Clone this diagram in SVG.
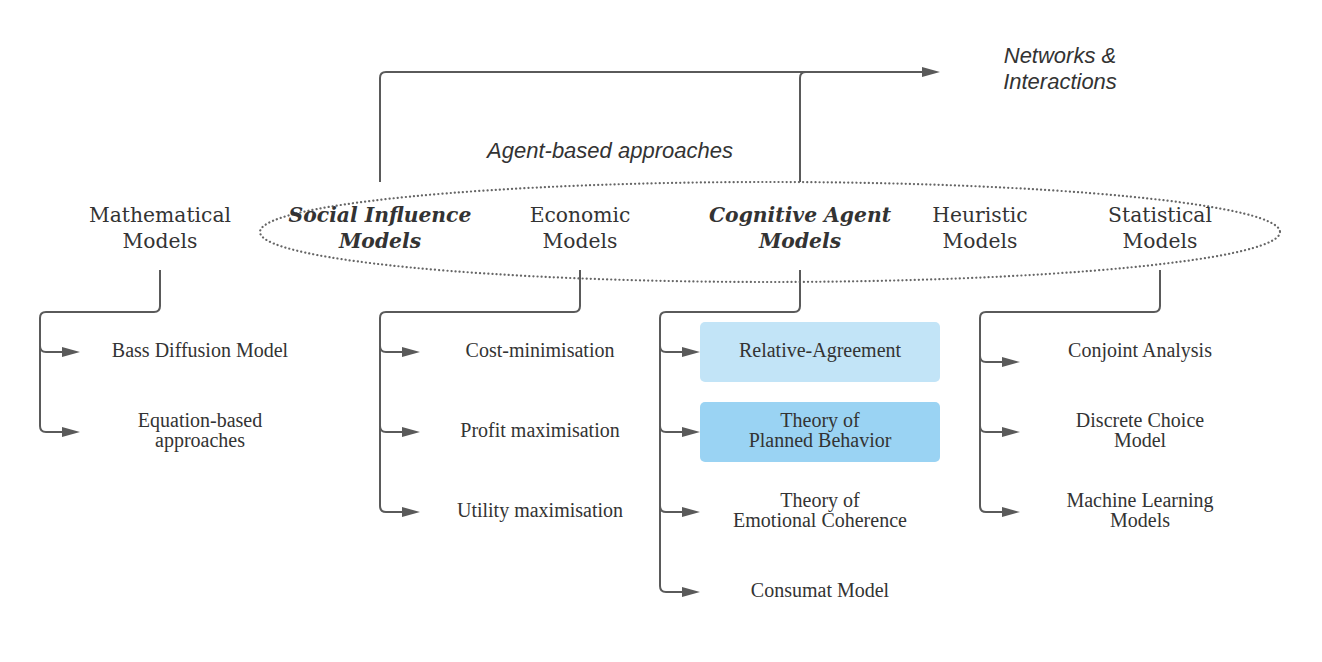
<svg xmlns="http://www.w3.org/2000/svg" width="1322" height="662" viewBox="0 0 1322 662">
<style>
.bg{fill:#ffffff}
.ln{fill:none;stroke:#5a5a5a;stroke-width:2}
.ell{fill:none;stroke:#666666;stroke-width:2.2;stroke-dasharray:0.1 4;stroke-linecap:round}
.top{font-family:"DejaVu Serif","Liberation Serif",serif;font-size:20.3px;fill:#333333;text-anchor:middle}
.topb{font-family:"DejaVu Serif","Liberation Serif",serif;font-size:20.3px;fill:#333333;text-anchor:middle;font-weight:bold;font-style:italic}
.it{font-family:"Liberation Sans",Arial,sans-serif;font-size:22px;fill:#333333;font-style:italic;text-anchor:middle}
.leaf{font-family:"Liberation Serif","Times New Roman",serif;font-size:20px;fill:#333333;text-anchor:middle}
</style>
<defs>
<marker id="arr" markerUnits="userSpaceOnUse" markerWidth="18" markerHeight="10" viewBox="0 0 18 10" refX="0" refY="5" orient="auto">
<path d="M0,0 L18,5 L0,10 z" fill="#5a5a5a"/>
</marker>
</defs>
<rect class="bg" x="0" y="0" width="1322" height="662"/>

<g id="connectors">
<path class="ln" d="M380,182 V78 Q380,72 386,72 H922" marker-end="url(#arr)"/>
<path class="ln" d="M800,182 V78 Q800,72 806,72 H820"/>
<path class="ln" d="M160,270 V306 Q160,312 154,312 H46 Q40,312 40,318 V426 Q40,432 46,432 H62" marker-end="url(#arr)"/>
<path class="ln" d="M40,346 Q40,352 46,352 H62" marker-end="url(#arr)"/>
<path class="ln" d="M580,270 V306 Q580,312 574,312 H386 Q380,312 380,318 V506 Q380,512 386,512 H402" marker-end="url(#arr)"/>
<path class="ln" d="M380,346 Q380,352 386,352 H402" marker-end="url(#arr)"/>
<path class="ln" d="M380,426 Q380,432 386,432 H402" marker-end="url(#arr)"/>
<path class="ln" d="M800,270 V306 Q800,312 794,312 H666 Q660,312 660,318 V586 Q660,592 666,592 H682" marker-end="url(#arr)"/>
<path class="ln" d="M660,346 Q660,352 666,352 H682" marker-end="url(#arr)"/>
<path class="ln" d="M660,426 Q660,432 666,432 H682" marker-end="url(#arr)"/>
<path class="ln" d="M660,506 Q660,512 666,512 H682" marker-end="url(#arr)"/>
<path class="ln" d="M1160,270 V306 Q1160,312 1154,312 H986 Q980,312 980,318 V506 Q980,512 986,512 H1002" marker-end="url(#arr)"/>
<path class="ln" d="M980,356 Q980,362 986,362 H1002" marker-end="url(#arr)"/>
<path class="ln" d="M980,426 Q980,432 986,432 H1002" marker-end="url(#arr)"/>
</g>

<g id="agent-group">
<ellipse class="ell" cx="770" cy="232" rx="510" ry="50"/>
</g>

<g id="label-networks">
<text class="it" x="1060" y="63">Networks &amp;</text>
<text class="it" x="1060" y="89">Interactions</text>
</g>
<g id="label-agent">
<text class="it" x="610" y="158">Agent-based approaches</text>
</g>

<g id="node-mathematical">
<text class="top" x="160" y="222">Mathematical</text>
<text class="top" x="160" y="248">Models</text>
</g>
<g id="node-social">
<text class="topb" x="380" y="222">Social Influence</text>
<text class="topb" x="380" y="248">Models</text>
</g>
<g id="node-economic">
<text class="top" x="580" y="222">Economic</text>
<text class="top" x="580" y="248">Models</text>
</g>
<g id="node-cognitive">
<text class="topb" x="800" y="222">Cognitive Agent</text>
<text class="topb" x="800" y="248">Models</text>
</g>
<g id="node-heuristic">
<text class="top" x="980" y="222">Heuristic</text>
<text class="top" x="980" y="248">Models</text>
</g>
<g id="node-statistical">
<text class="top" x="1160" y="222">Statistical</text>
<text class="top" x="1160" y="248">Models</text>
</g>

<g id="node-bass"><text class="leaf" x="200" y="357">Bass Diffusion Model</text></g>
<g id="node-equation"><text class="leaf" x="200" y="427">Equation-based</text><text class="leaf" x="200" y="447">approaches</text></g>

<g id="node-cost"><text class="leaf" x="540" y="357">Cost-minimisation</text></g>
<g id="node-profit"><text class="leaf" x="540" y="437">Profit maximisation</text></g>
<g id="node-utility"><text class="leaf" x="540" y="517">Utility maximisation</text></g>

<g id="node-relative"><rect x="700" y="322" width="240" height="60" rx="5" fill="#c2e4f7"/><text class="leaf" x="820" y="357">Relative-Agreement</text></g>
<g id="node-tpb"><rect x="700" y="402" width="240" height="60" rx="5" fill="#9ad3f3"/><text class="leaf" x="820" y="427">Theory of</text><text class="leaf" x="820" y="447">Planned Behavior</text></g>
<g id="node-tec"><text class="leaf" x="820" y="507">Theory of</text><text class="leaf" x="820" y="527">Emotional Coherence</text></g>
<g id="node-consumat"><text class="leaf" x="820" y="597">Consumat Model</text></g>

<g id="node-conjoint"><text class="leaf" x="1140" y="357">Conjoint Analysis</text></g>
<g id="node-discrete"><text class="leaf" x="1140" y="427">Discrete Choice</text><text class="leaf" x="1140" y="447">Model</text></g>
<g id="node-ml"><text class="leaf" x="1140" y="507">Machine Learning</text><text class="leaf" x="1140" y="527">Models</text></g>
</svg>
